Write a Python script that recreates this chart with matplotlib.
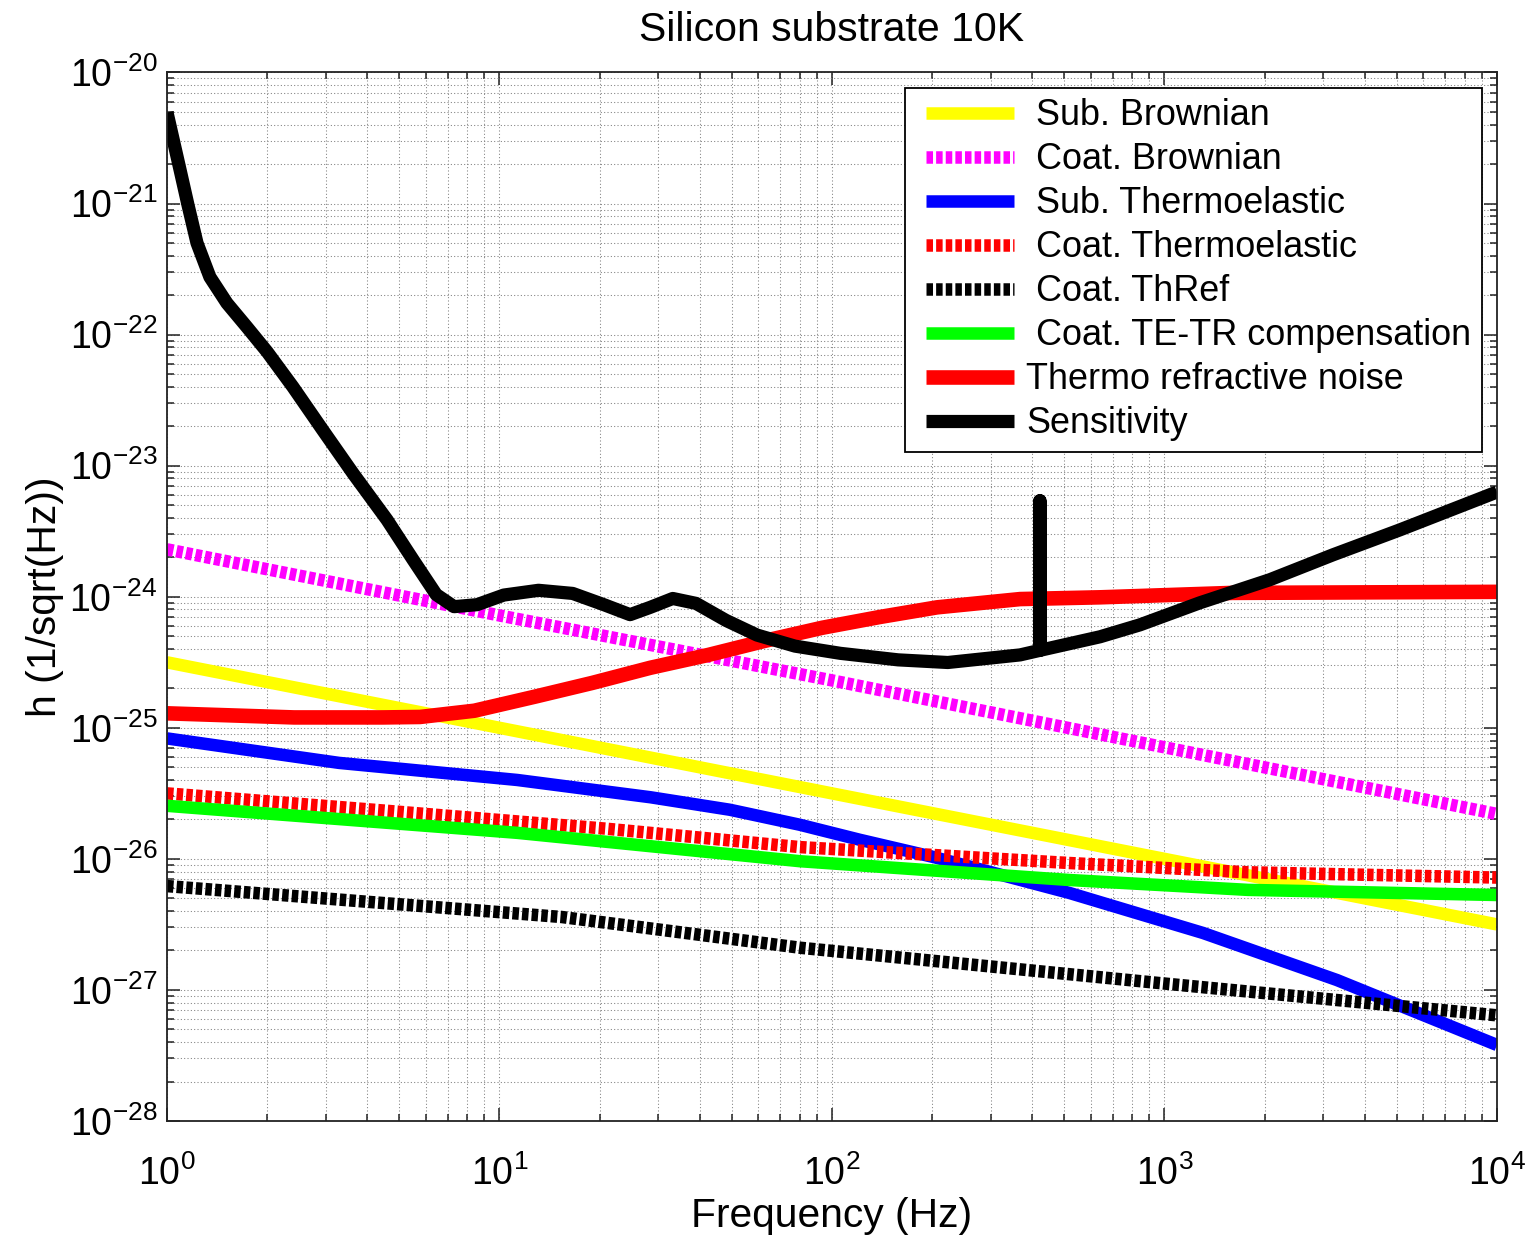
import numpy as np
import matplotlib
matplotlib.use("Agg")
import matplotlib.pyplot as plt
from matplotlib.ticker import LogLocator, NullFormatter
from matplotlib.lines import Line2D
from matplotlib.legend_handler import HandlerLine2D

plt.rcParams['font.family'] = ['Liberation Sans', 'DejaVu Sans']
plt.rcParams['mathtext.fontset'] = 'custom'
plt.rcParams['mathtext.rm'] = 'Liberation Sans'
plt.rcParams['mathtext.it'] = 'Liberation Sans:italic'
plt.rcParams['mathtext.bf'] = 'Liberation Sans:bold'
plt.rcParams['axes.unicode_minus'] = False

# ---------------- data ----------------
f_sub_brown = [1, 10, 100, 1000, 10000]
h_sub_brown = [3.16e-25, 1.0e-25, 3.16e-26, 1.0e-26, 3.16e-27]

f_coat_brown = [1, 10, 100, 1000, 10000]
h_coat_brown = [2.3e-24, 7.2e-25, 2.3e-25, 7.1e-26, 2.2e-26]

f_sub_te = [1, 3.29, 11.3, 28.5, 49.3, 80.1, 121, 203, 517, 1306, 3300, 10000]
h_sub_te = [8.3e-26, 5.4e-26, 4.0e-26, 2.95e-26, 2.37e-26, 1.82e-26, 1.40e-26,
            1.03e-26, 5.5e-27, 2.72e-27, 1.19e-27, 3.8e-28]

f_coat_te = [1, 4.46, 20.9, 80, 517, 1780, 10000]
h_coat_te = [3.16e-26, 2.34e-26, 1.7e-26, 1.23e-26, 9.3e-27, 7.9e-27, 7.2e-27]

f_coat_thref = [1, 15.4, 80, 960, 10000]
h_coat_thref = [6.2e-27, 3.6e-27, 2.1e-27, 1.13e-27, 6.4e-28]

f_comp = [1, 11.3, 80, 517, 1780, 10000]
h_comp = [2.54e-26, 1.58e-26, 9.6e-27, 6.9e-27, 5.8e-27, 5.3e-27]

f_thermo_ref = [1, 2.41, 4.46, 5.77, 8.4, 12.8, 19.0, 28.4, 42.5, 62.6, 93.5, 139,
                207, 368, 640, 1600, 10000]
h_thermo_ref = [1.29e-25, 1.2e-25, 1.2e-25, 1.21e-25, 1.35e-25, 1.73e-25, 2.2e-25,
                2.87e-25, 3.6e-25, 4.6e-25, 5.8e-25, 7.0e-25, 8.3e-25, 9.6e-25,
                9.9e-25, 1.07e-24, 1.09e-24]

f_sens = [1.0, 1.094, 1.156, 1.231, 1.346, 1.514, 1.74, 2.0, 2.39, 2.94, 3.63, 4.59,
          5.50, 6.45, 7.30, 8.56, 10.3, 13.1, 16.6, 20.6, 24.7, 28.4, 33.2,
          39.0, 48.0, 59.5, 77.4, 106, 158, 223, 368, 422, 422, 422, 640, 843,
          1279, 2076, 3213, 5107, 10000]
h_sens = [4.95e-21, 1.82e-21, 9.8e-22, 5.0e-22, 2.75e-22, 1.74e-22, 1.14e-22, 7.4e-23,
          4.0e-23, 1.87e-23, 8.7e-24, 3.86e-24, 1.91e-24, 1.04e-24, 8.4e-25, 8.7e-25,
          1.03e-24, 1.12e-24, 1.06e-24, 8.7e-25, 7.3e-25, 8.3e-25, 9.7e-25,
          8.9e-25, 6.6e-25, 5.1e-25, 4.2e-25, 3.7e-25, 3.3e-25, 3.15e-25, 3.6e-25,
          3.9e-25, 5.4e-24, 3.9e-25, 4.95e-25, 6.1e-25, 9.0e-25, 1.35e-24, 2.09e-24,
          3.24e-24, 6.3e-24]

labels = [" Sub. Brownian", " Coat. Brownian", " Sub. Thermoelastic",
          " Coat. Thermoelastic", " Coat. ThRef", " Coat. TE-TR compensation",
          "Thermo refractive noise", "Sensitivity"]

# ---------------- figure ----------------
fig = plt.figure(figsize=(15.3, 12.35), dpi=100)
ax = fig.add_axes([0.10915, 0.09231, 0.86928, 0.84899])

LW = 9.0
dots = (0.52, 0.25)
solid = dict(solid_capstyle='butt', solid_joinstyle='round')
dotted = dict(dashes=dots, dash_capstyle='butt', dash_joinstyle='round')

ax.loglog(f_sub_brown, h_sub_brown, color='#ffff00', lw=LW, label=labels[0], **solid)
ax.loglog(f_coat_brown, h_coat_brown, color='#ff00ff', lw=LW, label=labels[1], **dotted)
ax.loglog(f_sub_te, h_sub_te, color='#0000ff', lw=LW, label=labels[2], **solid)
ax.loglog(f_coat_te, h_coat_te, color='#ff0000', lw=LW, label=labels[3], **dotted)
ax.loglog(f_coat_thref, h_coat_thref, color='#000000', lw=LW, label=labels[4], **dotted)
ax.loglog(f_comp, h_comp, color='#00ff00', lw=LW, label=labels[5], **solid)
ax.loglog(f_thermo_ref, h_thermo_ref, color='#ff0000', lw=10.5, label=labels[6], **solid)
ax.loglog(f_sens, h_sens, color='#000000', lw=9.5, label=labels[7], **solid)

ax.set_xlim(1, 1e4)
ax.set_ylim(1e-28, 1e-20)

ax.xaxis.set_major_locator(LogLocator(base=10, numticks=20))
ax.yaxis.set_major_locator(LogLocator(base=10, numticks=20))
ax.xaxis.set_minor_locator(LogLocator(base=10, subs=np.arange(2, 10), numticks=100))
ax.yaxis.set_minor_locator(LogLocator(base=10, subs=np.arange(2, 10), numticks=100))
ax.xaxis.set_minor_formatter(NullFormatter())
ax.yaxis.set_minor_formatter(NullFormatter())

ax.tick_params(which='both', direction='in', top=True, right=True, width=1.1,
               colors='#222222')
ax.tick_params(which='major', length=9.5, labelsize=27, labelcolor='black')
ax.tick_params(axis='x', which='major', pad=25)
ax.tick_params(axis='y', which='major', pad=7)
ax.tick_params(which='minor', length=5)
for sp in ax.spines.values():
    sp.set_linewidth(1.3)
    sp.set_color('#222222')

ax.grid(True, which='both', color='0.5', linestyle=(0, (1, 2.2)), linewidth=0.75)
ax.set_axisbelow(True)

ax.set_title("Silicon substrate 10K", fontsize=29.5, pad=23)
ax.set_xlabel("Frequency (Hz)", fontsize=29.3, labelpad=3)
ax.set_ylabel("h (1/sqrt(Hz))", fontsize=29.3, labelpad=4)

leg = ax.legend(loc='upper right', fontsize=25.9, handlelength=2.72,
                handletextpad=0.33, labelspacing=0.25, borderpad=0.3,
                borderaxespad=0.42, fancybox=False, framealpha=1,
                edgecolor='black',
                handler_map={Line2D: HandlerLine2D(xpad=0.28)})
leg.get_frame().set_linewidth(1.3)

fig.savefig("out.png", dpi=100)
